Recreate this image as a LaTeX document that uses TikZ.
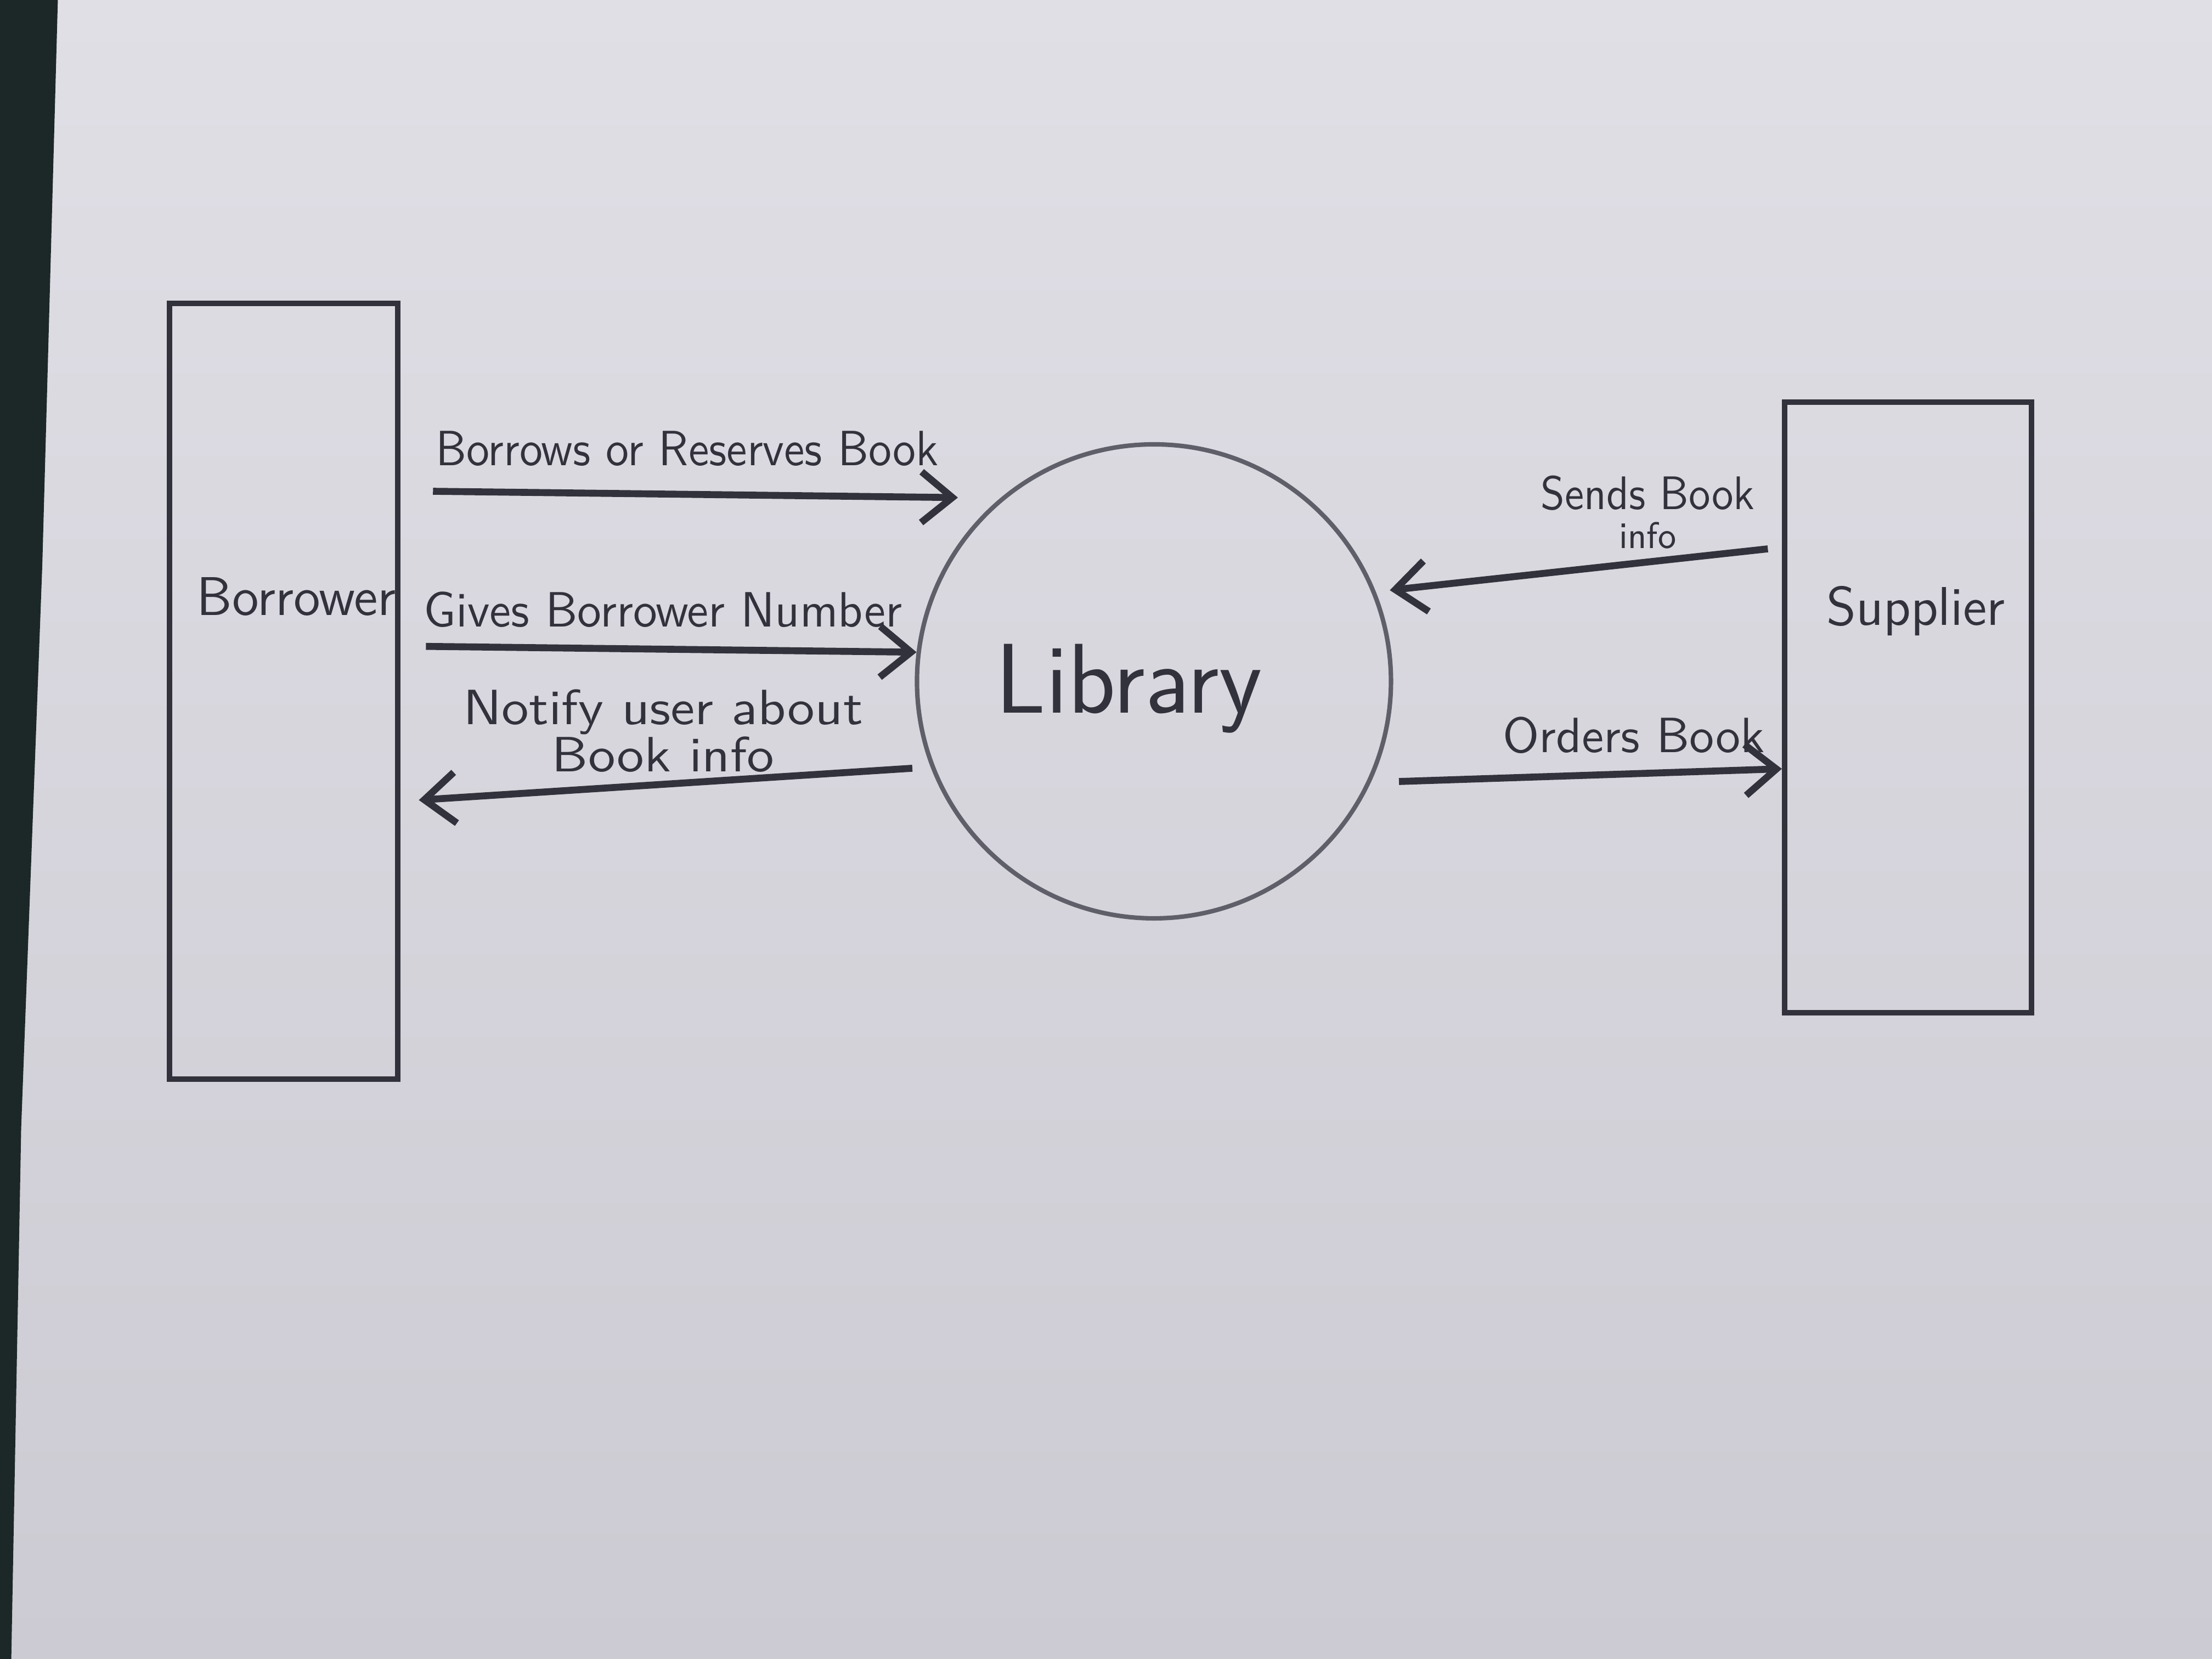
\documentclass[tikz,border=0pt]{standalone}
\usetikzlibrary{arrows.meta,calc}
\definecolor{paper}{RGB}{224,223,230}
\definecolor{paperlow}{RGB}{204,202,210}
\definecolor{inkc}{RGB}{50,50,60}
\definecolor{pencil}{RGB}{95,95,105}
\definecolor{edge}{RGB}{28,40,40}
\begin{document}
\begin{tikzpicture}[
  entity/.style={draw=inkc, line width=1.1pt, rectangle, inner sep=0pt},
  proc/.style={draw=pencil, line width=0.9pt, circle, inner sep=0pt, minimum size=3.36cm},
  flow/.style={draw=inkc, line width=1.4pt, -{Straight Barb[length=2.2mm,width=3.6mm,line width=1.4pt]}},
  lbl/.style={text=inkc, font=\sffamily\fontsize{10}{9}\selectfont, inner sep=0pt, align=center},
  biglbl/.style={text=inkc, font=\sffamily\fontsize{20}{24}\selectfont, inner sep=0pt}
]
\useasboundingbox (0,0) rectangle (15.68,11.76);
% paper
\shade[top color=paper, bottom color=paperlow] (0,0) rectangle (15.68,11.76);
\fill[edge] (0,11.76) -- (0.41,11.76) -- (0.30,7.76) -- (0.15,3.76) -- (0.08,0) -- (0,0) -- cycle;

% entities
\node[entity, minimum width=1.62cm, minimum height=5.50cm] (brw) at (2.01,6.86) {};
\node[entity, minimum width=1.75cm, minimum height=4.33cm] (sup) at (13.525,6.745) {};
\node[proc] (lib) at (8.18,6.93) {};

\node[lbl, font=\sffamily\fontsize{11}{12}\selectfont] (brwt) at (2.10,7.53) {Borrower};
\node[lbl, font=\sffamily\fontsize{11}{12}\selectfont] (supt) at (13.58,7.43) {Supplier};
\node[biglbl] (libt) at (8.00,6.88) {Library};

% flows
\draw[flow, shorten <=2.3mm, shorten >=3mm] (brw.east |- 0,8.28) -- (lib.130);
\draw[flow, shorten <=1.8mm] (brw.east |- 0,7.18) -- (lib.173);
\draw[flow, shorten <=1.3mm, shorten >=1.3mm] (lib.201) -- (brw.east |- 0,6.08);
\draw[flow, shorten <=1mm, shorten >=1mm] (sup.west |- 0,7.88) -- (lib.22);
\draw[flow, shorten <=2mm] (lib.-25) -- (sup.west |- 0,6.31);

% flow labels
\node[lbl, xscale=0.93] (l1) at (4.87,8.58) {Borrows or Reserves Book};
\node[lbl, xscale=0.97] (l2) at (4.70,7.44) {Gives Borrower Number};
\node[lbl, xscale=1.1, font=\sffamily\fontsize{10}{9.5}\selectfont] (l3) at (4.70,6.58) {Notify user about\\Book info};
\node[lbl, xscale=0.92, font=\sffamily\fontsize{9.5}{7.8}\selectfont] (l4) at (11.68,8.13) {Sends Book\\{\fontsize{7.5}{7.8}\selectfont info}};
\node[lbl] (l5) at (11.58,6.55) {Orders Book};
\end{tikzpicture}
\end{document}
